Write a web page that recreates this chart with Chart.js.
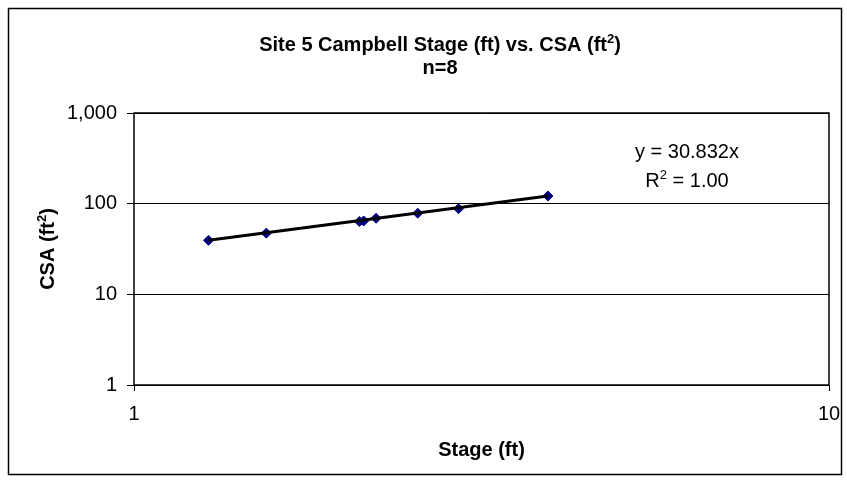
<!DOCTYPE html>
<html>
<head>
<meta charset="utf-8">
<script src="https://cdn.jsdelivr.net/npm/chart.js@4.4.0/dist/chart.umd.min.js"></script>
<style>
  body { margin: 0; background: #fff; }
  canvas { display: block; }
</style>
</head>
<body>
<canvas id="myChart" width="847" height="480"></canvas>
<script>
const ctx = document.getElementById("myChart").getContext("2d");

// Stage (ft) and CSA (ft^2)
const stage = [1.28, 1.55, 2.11, 2.14, 2.23, 2.56, 2.93, 3.94];
const csa = [39.4, 47.3, 63.5, 64.5, 69.0, 78.5, 88.0, 121.5];
const slope = 30.832; // trendline y = 30.832x
const xTicks = [1, 10];
const yTicks = [1, 10, 100, 1000];

// text pieces, "^" marks a superscript part
const titleLine1 = [["Site 5 Campbell Stage (ft) vs. CSA (ft"], ["2", "^"], [")"]];
const titleLine2 = [["n=8"]];
const yTitle = [["CSA (ft"], ["2", "^"], [")"]];
const eqLine1 = [["y = 30.832x"]];
const eqLine2 = [["R"], ["2", "^"], [" = 1.00"]];

const FONT = "'Liberation Sans', Arial, sans-serif";

// trendline spans the data range
const xMin = Math.min(...stage);
const xMax = Math.max(...stage);
const trend = [xMin, xMax].map(x => ({ x: x, y: slope * x }));

// draw text with superscripts, centred on x
const drawRich = (c, parts, x, y, size, bold) => {
  const w = bold ? "bold " : "";
  const big = w + size + "px " + FONT;
  const small = w + Math.round(size * 0.65) + "px " + FONT;
  let total = 0;
  parts.forEach(p => {
    c.font = p[1] ? small : big;
    total += c.measureText(p[0]).width;
  });
  let cx = x - total / 2;
  c.textAlign = "left";
  c.textBaseline = "alphabetic";
  parts.forEach(p => {
    c.font = p[1] ? small : big;
    c.fillText(p[0], cx, p[1] ? y - size * 0.42 : y);
    cx += c.measureText(p[0]).width;
  });
};

const frame = {
  id: "frame",
  beforeDraw(chart) {
    const c = chart.ctx;
    c.save();
    c.fillStyle = "#fff";
    c.fillRect(0, 0, chart.width, chart.height);
    c.strokeStyle = "#000";
    c.lineWidth = 1.5;
    c.strokeRect(8.5, 8.5, 833, 466);
    c.restore();
  },
  afterDraw(chart) {
    const c = chart.ctx;
    const a = chart.chartArea;
    c.save();
    c.strokeStyle = "#000";
    c.lineWidth = 1.5;
    c.strokeRect(a.left, a.top, a.right - a.left, a.bottom - a.top);
    c.fillStyle = "#000";
    drawRich(c, titleLine1, 440, 51, 20, true);
    drawRich(c, titleLine2, 440, 74, 20, true);
    drawRich(c, eqLine1, 687, 158, 20, false);
    drawRich(c, eqLine2, 687, 187, 20, false);
    c.translate(54, (a.top + a.bottom) / 2);
    c.rotate(-Math.PI / 2);
    drawRich(c, yTitle, 0, 0, 20, true);
    c.restore();
  }
};

const myChart = new Chart(ctx, {
  type: "scatter",
  data: {
    datasets: [
      {
        label: "Trend",
        type: "line",
        data: trend,
        borderColor: "#000",
        borderWidth: 3,
        pointRadius: 0,
        fill: false
      },
      {
        label: "CSA",
        data: stage.map((x, i) => ({ x: x, y: csa[i] })),
        pointStyle: "rectRot",
        pointRadius: 5,
        backgroundColor: "#000080",
        borderColor: "#000080",
        borderWidth: 1
      }
    ]
  },
  options: {
    responsive: false,
    animation: false,
    devicePixelRatio: 1,
    layout: { padding: { left: 0, right: 18, top: 113, bottom: 0 } },
    plugins: {
      legend: { display: false },
      tooltip: { enabled: false },
      title: { display: false }
    },
    scales: {
      x: {
        type: "logarithmic",
        min: 1,
        max: 10,
        afterBuildTicks: s => { s.ticks = xTicks.map(v => ({ value: v })); },
        afterFit: s => { s.height = 95; s.paddingLeft = 0; s.paddingRight = 0; },
        ticks: {
          color: "#000",
          font: { family: FONT, size: 20 },
          padding: 11,
          maxRotation: 0,
          callback: v => v.toString()
        },
        grid: { drawOnChartArea: false, drawTicks: true, tickLength: 6, color: "#000" },
        border: { display: false },
        title: {
          display: true,
          text: "Stage (ft)",
          color: "#000",
          font: { family: FONT, size: 20, weight: "bold", lineHeight: 1.2 },
          padding: { top: 0, bottom: 18 }
        }
      },
      y: {
        type: "logarithmic",
        min: 1,
        max: 1000,
        afterBuildTicks: s => { s.ticks = yTicks.map(v => ({ value: v })); },
        afterFit: s => { s.width = 134; s.paddingTop = 0; s.paddingBottom = 0; },
        ticks: {
          color: "#000",
          font: { family: FONT, size: 20 },
          padding: 10,
          callback: v => v.toLocaleString("en-US")
        },
        grid: { drawOnChartArea: true, drawTicks: true, tickLength: 7, color: "#000", lineWidth: 1 },
        border: { display: false },
        title: { display: false }
      }
    }
  },
  plugins: [frame]
});
</script>
</body>
</html>
